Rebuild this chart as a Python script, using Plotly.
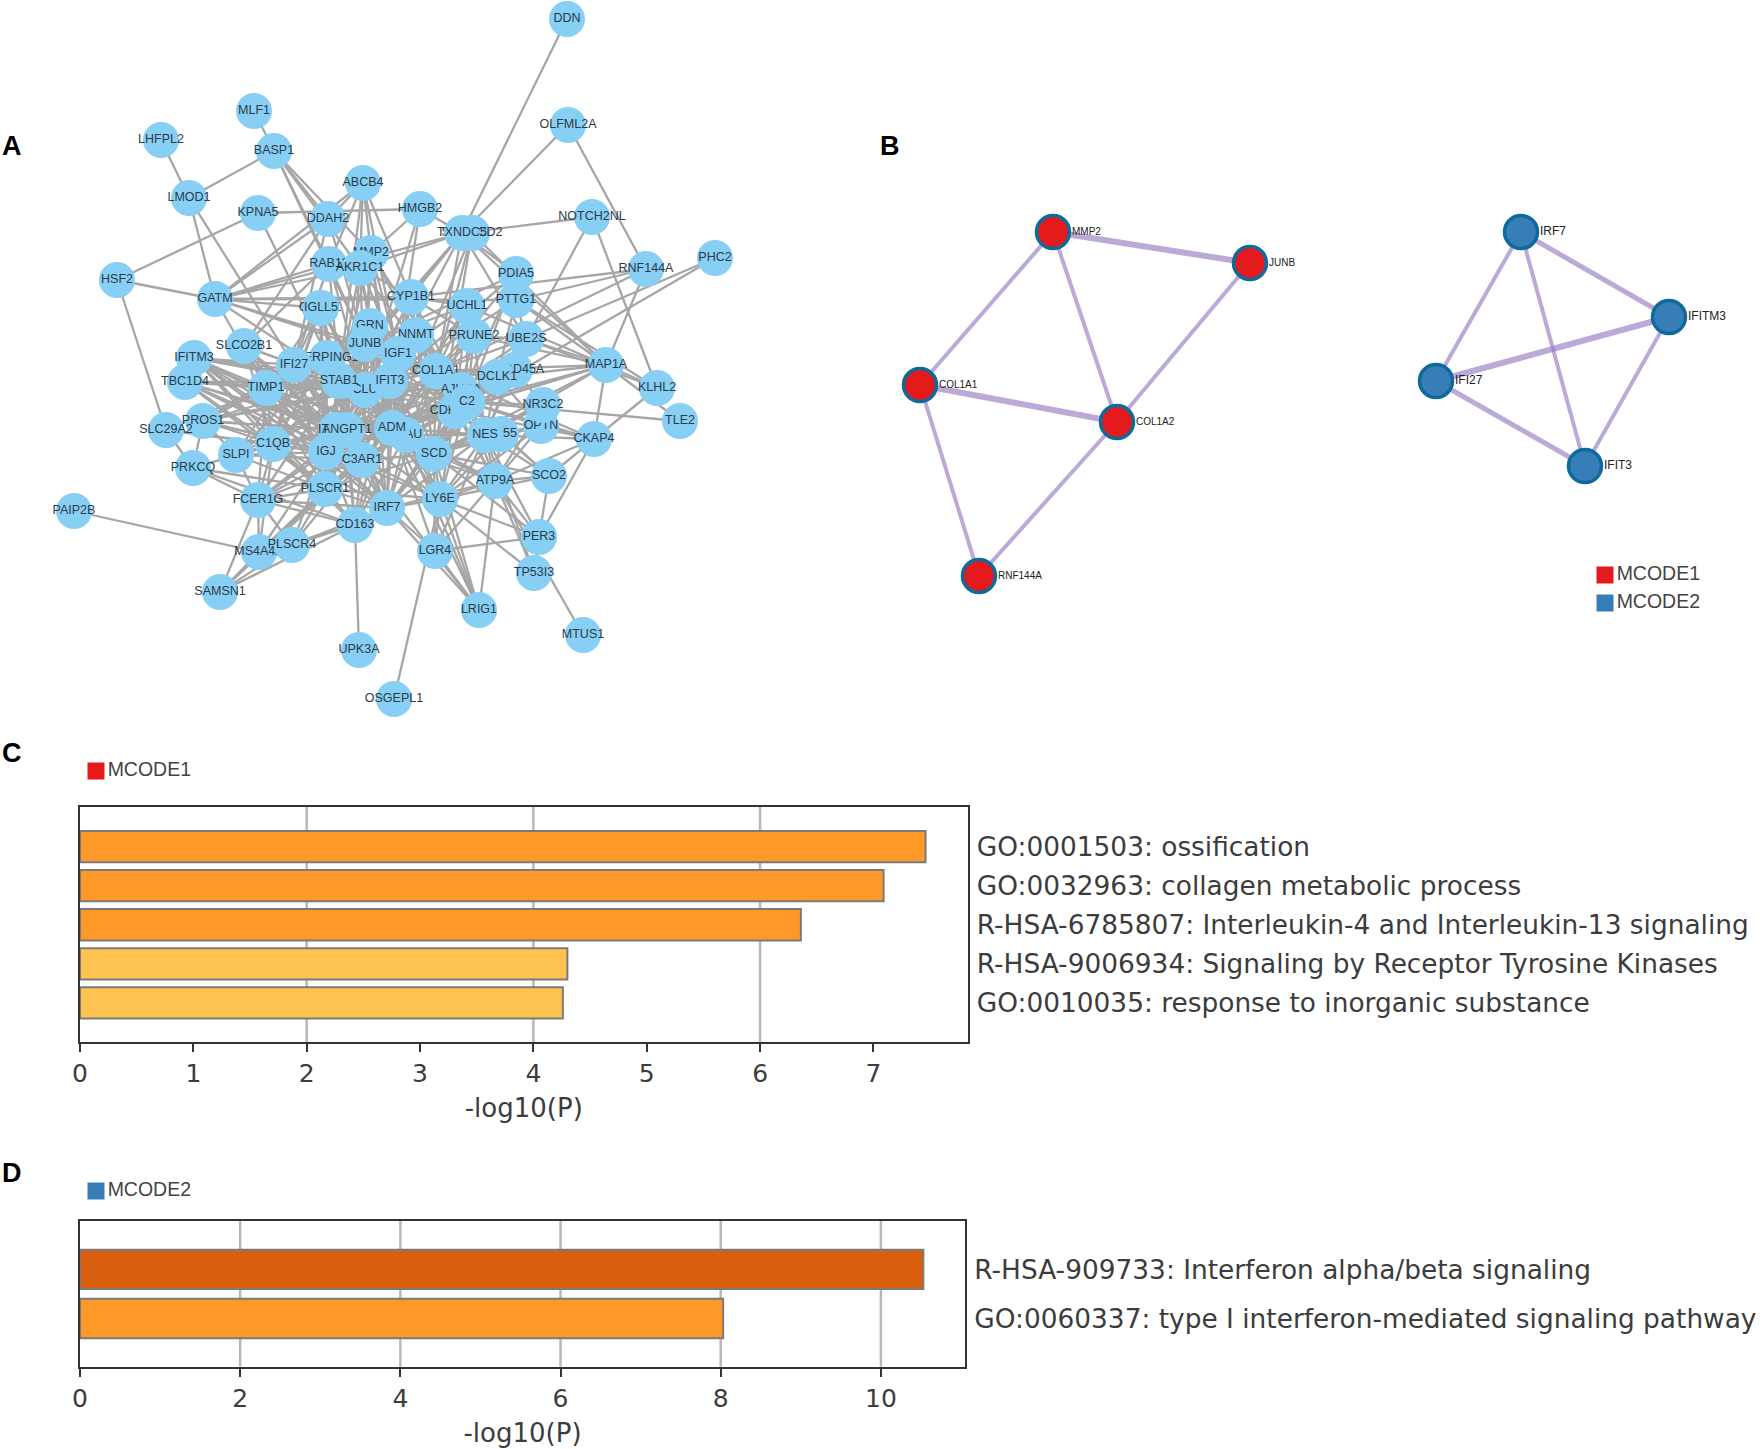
import plotly.graph_objects as go

# ---------- Panel A network ----------
NODE_NAMES = ["DDN","MLF1","OLFML2A","LHFPL2","BASP1","ABCB4","LMOD1","KPNA5","DDAH2","HMGB2","SMARCD2","TXNDC5","NOTCH2NL","HSF2",
 "RAB13","MMP2","AKR1C1","PHC2","RNF144A","PDIA5","GATM","CYP1B1","CHI3L1","IGLL5","UCHL1","PTTG1","GRN","NNMT","PRUNE2","UBE2S",
 "SERPING1","JUNB","SLCO2B1","IFITM3","IGF1","IFI27","MAP1A","COL1A1","KLHL2","GADD45A","DCLK1","TBC1D4","TIMP1","CLU","STAB1","IFIT3",
 "AJUBA","CDKN1A","C2","OPTN","NR3C2","PROS1","SLC29A2","TLE2","ITGA5","ANGPT1","PLAU","ADM","CD55","NES","CKAP4","C1QB","SLPI","IGJ","SCD",
 "C3AR1","PRKCQ","SCO2","ATP9A","PLSCR1","FCER1G","LY6E","IRF7","PAIP2B","CD163","PER3","MS4A4A","PLSCR4","LGR4","TP53I3","SAMSN1","LRIG1","MTUS1","UPK3A","OSGEPL1"]
NODE_X = [567,254,568,161,274,363,189,258,328,420,472,462,592,117,
 329,371,360,715,646,516,215,411,320,321,467,516,370,416,474,526,
 327,365,244,194,398,294,606,436,657,515,497,185,266,365,339,390,
 461,455,467,541,543,203,166,680,336,347,406,392,501,485,594,273,236,326,434,
 362,193,549,495,325,258,440,387,74,355,539,259,292,435,534,220,479,583,359,394]
NODE_Y = [19,111,125,140,151,183,198,213,219,209,233,233,217,280,
 264,253,268,258,269,274,299,297,308,308,306,300,326,335,336,339,
 358,344,346,358,354,365,365,371,388,370,377,382,388,390,381,381,
 390,411,402,426,405,421,430,421,430,430,435,428,434,435,439,444,455,452,454,
 460,468,476,481,489,500,499,508,511,525,537,552,545,551,573,592,610,635,650,699]
EDGE_LISTS = [
 ("DDN","TXNDC5"),("OLFML2A","TXNDC5 RNF144A"),("MLF1","BASP1"),("LHFPL2","LMOD1"),
 ("BASP1","LMOD1 DDAH2 RAB13 MMP2 AKR1C1 JUNB"),("LMOD1","GATM IFI27"),
 ("KPNA5","HMGB2 HSF2 STAB1"),("HSF2","GATM SLC29A2"),
 ("ABCB4","DDAH2 RAB13 CYP1B1 AKR1C1 GATM IGF1 STAB1 MMP2"),
 ("DDAH2","GATM JUNB IFI27 SLCO2B1"),("HMGB2","TXNDC5 IGF1 MMP2 CLU"),
 ("TXNDC5","NOTCH2NL AKR1C1 GATM IGF1 JUNB COL1A1 CYP1B1 PDIA5 UBE2S MAP1A STAB1"),
 ("SMARCD2","ADM COL1A1 MAP1A SCD"),("NOTCH2NL","UBE2S KLHL2"),
 ("RNF144A","MAP1A PTTG1 COL1A1 CYP1B1"),("PHC2","UBE2S C2"),
 ("PTTG1","UBE2S GATM IFIT3 DCLK1 KLHL2 MAP1A"),
 ("MAP1A","KLHL2 CKAP4 UBE2S DCLK1 C2 CDKN1A SCD ADM UCHL1 PRUNE2 COL1A1 NES"),
 ("KLHL2","CKAP4 UBE2S"),("TLE2","C2 MAP1A"),("CKAP4","SCO2 NES ATP9A PER3 C2 OPTN COL1A1 CDKN1A"),
 ("GATM","JUNB TIMP1 CYP1B1 STAB1 COL1A1 AKR1C1 IGLL5 RAB13"),
 ("RAB13","STAB1 JUNB CLU IFI27 SLCO2B1"),("MMP2","COL1A1 JUNB IGF1 CLU IFIT3 C2 ADM STAB1"),
 ("AKR1C1","CYP1B1 IGF1 CLU COL1A1 ANGPT1 IGJ ADM GRN"),
 ("CYP1B1","IGF1 JUNB CLU COL1A1 UCHL1 C2 ADM ANGPT1 PRUNE2 SCD CDKN1A"),
 ("IGLL5","STAB1 IGJ ANGPT1 TIMP1 CLU C1QB ADM C3AR1 IFI27"),("CHI3L1","STAB1 IGJ C1QB CLU ANGPT1 C3AR1 PLSCR1"),
 ("UCHL1","COL1A1 C2 IGF1 JUNB ADM SCD CDKN1A"),("PDIA5","C2 COL1A1 IFIT3 JUNB CDKN1A"),
 ("GRN","IGF1 C2 CLU COL1A1 ANGPT1 ADM IRF7 TIMP1 C3AR1"),("NNMT","C2 COL1A1 CLU ADM SCD IGF1 CDKN1A"),
 ("PRUNE2","C2 COL1A1 CDKN1A ADM NES UBE2S"),("UBE2S","C2 CDKN1A NES COL1A1 ADM SCD"),
 ("JUNB","IGF1 COL1A1 CLU C2 CDKN1A ADM TIMP1 ANGPT1 IFI27 SCD C3AR1 IGJ STAB1 PLSCR1"),
 ("SLCO2B1","CLU IGJ ANGPT1 STAB1 C1QB C3AR1 TIMP1 ITGA5"),
 ("IFITM3","ANGPT1 IRF7 IFIT3 IFI27 PLSCR1 C1QB STAB1 CLU TIMP1 C3AR1 IGJ ITGA5"),
 ("TBC1D4","ANGPT1 IGJ CLU STAB1 C1QB TIMP1 C3AR1 PLSCR1 ITGA5"),
 ("SERPING1","IGJ C1QB C3AR1 ANGPT1 CLU ADM IRF7 TIMP1 IFIT3 PLSCR1 SLPI PROS1"),
 ("IGF1","COL1A1 CLU C2 CDKN1A ADM TIMP1 ANGPT1 SCD C3AR1 IGJ IFIT3 STAB1 NES AJUBA PLAU"),
 ("IFI27","IRF7 IFIT3 PLSCR1 C1QB CLU STAB1 ANGPT1 IGJ C3AR1 ADM SLPI TIMP1 ITGA5 PROS1"),
 ("COL1A1","C2 CDKN1A ADM TIMP1 ANGPT1 CLU SCD IGJ C3AR1 AJUBA IFIT3 NES IRF7 ATP9A STAB1 PLAU"),
 ("DCLK1","C2 CDKN1A NES ADM SCD COL1A1 OPTN"),("GADD45A","C2 CDKN1A NES ADM SCD NR3C2 COL1A1"),
 ("TIMP1","ANGPT1 IGJ C1QB STAB1 CLU C3AR1 ADM PLSCR1 IRF7 IFIT3 ITGA5 PLAU FCER1G"),
 ("CLU","ANGPT1 ADM C1QB SCD IGJ C3AR1 PLSCR1 IRF7 C2 CDKN1A IFIT3 LY6E AJUBA PLAU SLPI"),
 ("STAB1","ANGPT1 IGJ C1QB C3AR1 PLSCR1 ADM FCER1G CD163 SLPI ITGA5 SCD"),
 ("IFIT3","IRF7 PLSCR1 ANGPT1 ADM C2 IGJ C3AR1 LY6E SCD CD163 AJUBA CDKN1A PLAU PROS1"),
 ("AJUBA","CDKN1A ADM SCD NES ANGPT1 C3AR1"),("CDKN1A","C2 ADM SCD NES ANGPT1 IGJ C3AR1 IRF7 ATP9A LY6E PLAU"),
 ("C2","ADM SCD NES ANGPT1 C3AR1 IGJ IRF7 LY6E OPTN NR3C2 ATP9A SCO2 PLAU"),
 ("NR3C2","NES ATP9A SCD"),("OPTN","NES ATP9A SCD LY6E"),
 ("PROS1","ANGPT1 IGJ C1QB C3AR1 SLPI STAB1 TIMP1 CLU PRKCQ ITGA5"),
 ("SLC29A2","PRKCQ IGJ C1QB TIMP1"),("ITGA5","IGJ C3AR1 PLSCR1 C1QB SLPI"),
 ("ANGPT1","ADM SCD IGJ C1QB C3AR1 PLSCR1 IRF7 FCER1G LY6E PLAU CD163 ATP9A"),
 ("PLAU","SCD C3AR1 IRF7 LY6E ATP9A NES CD163 LRIG1"),
 ("ADM","SCD C3AR1 IGJ C1QB PLSCR1 IRF7 LY6E NES ATP9A LGR4 CD163 LRIG1 FCER1G"),
 ("CD55","NES ATP9A SCD LY6E SCO2"),
 ("NES","SCD ATP9A LY6E LGR4 IRF7 SCO2 PER3 TP53I3"),
 ("C1QB","IGJ C3AR1 SLPI PLSCR1 FCER1G PRKCQ MS4A4A IRF7 CD163"),("SLPI","IGJ PRKCQ FCER1G PLSCR1 C3AR1"),
 ("IGJ","C3AR1 PLSCR1 IRF7 FCER1G CD163 PLSCR4 MS4A4A LY6E"),
 ("SCD","C3AR1 IRF7 LY6E ATP9A LGR4 LRIG1 PER3 PLSCR1 SCO2"),
 ("C3AR1","PLSCR1 IRF7 FCER1G CD163 LY6E PLSCR4 MS4A4A LRIG1 SAMSN1"),
 ("PRKCQ","FCER1G PLSCR1 CD163"),("SCO2","ATP9A PER3 LY6E"),
 ("ATP9A","PER3 TP53I3 LRIG1 LY6E LGR4 MTUS1 IRF7"),
 ("PLSCR1","IRF7 FCER1G CD163 PLSCR4 MS4A4A LY6E SAMSN1"),
 ("FCER1G","CD163 MS4A4A PLSCR4 SAMSN1 IRF7"),("LY6E","IRF7 LGR4 LRIG1 OSGEPL1 PER3 TP53I3"),
 ("IRF7","CD163 LGR4 LRIG1 PLSCR4"),("PAIP2B","MS4A4A"),("CD163","UPK3A MS4A4A PLSCR4 SAMSN1"),
 ("MS4A4A","PLSCR4 SAMSN1"),("PLSCR4","SAMSN1"),("LGR4","LRIG1 PER3"),
]

# ---------- Panel B networks ----------
MC_NAMES = ["MMP2","JUNB","COL1A1","COL1A2","RNF144A","IRF7","IFITM3","IFI27","IFIT3"]
MC_X = [1053,1250,920,1117,979,1521,1669,1436,1585]
MC_Y = [232,263,385,422,576,232,317,381,466]
MC_COLORS = ["#E41A1C"]*5 + ["#377EB8"]*4
MC_FONT = [10,10,10,10,10,12,12,12,12]
MC_EDGES_THICK = [("MMP2","JUNB"),("COL1A1","COL1A2"),("IFITM3","IFI27")]
MC_EDGES_MID = [("IRF7","IFITM3"),("IFI27","IFIT3")]
MC_EDGES_THIN = [("MMP2","COL1A1"),("MMP2","COL1A2"),("JUNB","COL1A2"),("COL1A1","RNF144A"),("COL1A2","RNF144A"),
                 ("IRF7","IFI27"),("IRF7","IFIT3"),("IFITM3","IFIT3")]

# ---------- Panels C and D bars ----------
C_LABELS = ["GO:0001503: ossification","GO:0032963: collagen metabolic process",
            "R-HSA-6785807: Interleukin-4 and Interleukin-13 signaling",
            "R-HSA-9006934: Signaling by Receptor Tyrosine Kinases","GO:0010035: response to inorganic substance"]
C_VALUES = [7.46,7.09,6.36,4.30,4.26]
C_COLORS = ["#FE9929","#FE9929","#FE9929","#FEC44F","#FEC44F"]
C_TICKS = [0,1,2,3,4,5,6,7]
C_GRID = [2,4,6]
D_LABELS = ["R-HSA-909733: Interferon alpha/beta signaling","GO:0060337: type I interferon-mediated signaling pathway"]
D_VALUES = [10.53,8.03]
D_COLORS = ["#D95F0E","#FE9929"]
D_TICKS = [0,2,4,6,8,10]
D_GRID = [2,4,6,8,10]

W, H = 1760, 1449
INK = "#3c3c3c"
pos = dict(zip(NODE_NAMES, zip(NODE_X, NODE_Y)))
mcpos = dict(zip(MC_NAMES, zip(MC_X, MC_Y)))

def segs(pairs, lookup):
    xs, ys = [], []
    for a, b in pairs:
        xs += [lookup[a][0], lookup[b][0], None]
        ys += [lookup[a][1], lookup[b][1], None]
    return xs, ys

fig = go.Figure()
OV = dict(xaxis="x3", yaxis="y3", showlegend=False, hoverinfo="skip")

# A edges and nodes
pairs = [(a, b) for a, bs in EDGE_LISTS for b in bs.split()]
ex, ey = segs(pairs, pos)
fig.add_trace(go.Scatter(x=ex, y=ey, mode="lines", line=dict(color="#a6a6a6", width=2.3), **OV))
for n, x, y in zip(NODE_NAMES, NODE_X, NODE_Y):
    fig.add_trace(go.Scatter(x=[x], y=[y], text=[n], mode="markers+text", textposition="middle center",
                             marker=dict(size=36, color="#88CFF6"),
                             textfont=dict(family="Liberation Sans", size=12.5, color="#2b3a45"), **OV))

# B edges and nodes
for group, width in ((MC_EDGES_THICK, 6), (MC_EDGES_MID, 5), (MC_EDGES_THIN, 4)):
    ex, ey = segs(group, mcpos)
    fig.add_trace(go.Scatter(x=ex, y=ey, mode="lines", line=dict(color="rgba(150,125,195,0.65)", width=width), **OV))
fig.add_trace(go.Scatter(x=MC_X, y=MC_Y, mode="markers",
                         marker=dict(size=33, color=MC_COLORS, line=dict(color="#0F6A9C", width=3.5)), **OV))
fig.add_trace(go.Scatter(x=[v+19 for v in MC_X], y=MC_Y, text=MC_NAMES, mode="text", textposition="middle right",
                         textfont=dict(family="Liberation Sans", size=MC_FONT, color="#222222"), **OV))

# Legends
LEGENDS = [("MCODE1", "#E41A1C", 1605, 575), ("MCODE2", "#377EB8", 1605, 603),
           ("MCODE1", "#E41A1C", 96, 771), ("MCODE2", "#377EB8", 96, 1191)]
for t, c, x, y in LEGENDS:
    fig.add_trace(go.Scatter(x=[x], y=[y], text=[t], mode="markers+text", textposition="middle right",
                             marker=dict(size=17, symbol="square", color=c),
                             textfont=dict(family="Liberation Sans", size=19.5, color="#444444"), **OV))

# C and D bars
fig.add_trace(go.Bar(x=C_VALUES, y=C_LABELS, orientation="h", width=0.8, xaxis="x", yaxis="y",
                     marker=dict(color=C_COLORS, line=dict(color="#7a7a7a", width=2)), showlegend=False, hoverinfo="skip"))
fig.add_trace(go.Bar(x=D_VALUES, y=D_LABELS, orientation="h", width=0.8, xaxis="x2", yaxis="y2",
                     marker=dict(color=D_COLORS, line=dict(color="#7a7a7a", width=2)), showlegend=False, hoverinfo="skip"))

shapes = []
for v in C_GRID:
    shapes.append(dict(type="line", xref="x", yref="y domain", x0=v, x1=v, y0=0, y1=1, layer="below",
                       line=dict(color="#b8b8b8", width=2.5)))
for v in D_GRID:
    shapes.append(dict(type="line", xref="x2", yref="y2 domain", x0=v, x1=v, y0=0, y1=1, layer="below",
                       line=dict(color="#b8b8b8", width=2.5)))

def xax(domain, rng, ticks, anchor):
    return dict(domain=domain, range=rng, tickvals=ticks, showgrid=False, zeroline=False, anchor=anchor,
                showline=True, mirror=True, linecolor="#333333", linewidth=2, automargin=False,
                ticks="outside", ticklen=8, tickwidth=2, tickcolor="#333333",
                tickfont=dict(family="DejaVu Sans", size=25, color=INK),
                title=dict(text="-log10(P)", font=dict(family="DejaVu Sans", size=26, color=INK), standoff=12))

def yax(domain, rng, anchor):
    return dict(domain=domain, range=rng, type="category", side="right", anchor=anchor, showgrid=False, zeroline=False,
                showline=True, mirror=True, linecolor="#333333", linewidth=2, ticks="", automargin=False,
                ticklabelstandoff=2,
                tickfont=dict(family="DejaVu Sans", size=26.4, color=INK))

PANEL_LETTERS = [("A", 0, 146), ("B", 878, 146), ("C", 0, 753), ("D", 0, 1173)]
annos = [dict(text=t, x=x, y=y, xref="x3", yref="y3", xanchor="left", yanchor="middle", showarrow=False,
              font=dict(family="Liberation Sans", size=27, color="#000000", weight="bold")) for t, x, y in PANEL_LETTERS]

fig.update_layout(
    width=W, height=H, autosize=False, margin=dict(l=0, r=0, t=0, b=0), paper_bgcolor="white", plot_bgcolor="rgba(0,0,0,0)",
    bargap=0.2, shapes=shapes, annotations=annos,
    xaxis=xax([80/W, 967.5/W], [0, 7.83], C_TICKS, "y"),
    yaxis=yax([1-1042/H, 1-806.7/H], [5, -1.02], "x"),
    xaxis2=xax([80/W, 965/W], [0, 11.05], D_TICKS, "y2"),
    yaxis2=yax([1-1366.7/H, 1-1220.7/H], [1.98, -0.99], "x2"),
    xaxis3=dict(domain=[0, 1], range=[0, W], visible=False, anchor="y3"),
    yaxis3=dict(domain=[0, 1], range=[H, 0], visible=False, anchor="x3"),
)

fig.write_html("out.html", config={"displayModeBar": False}, post_script="document.body.style.margin='0';")
